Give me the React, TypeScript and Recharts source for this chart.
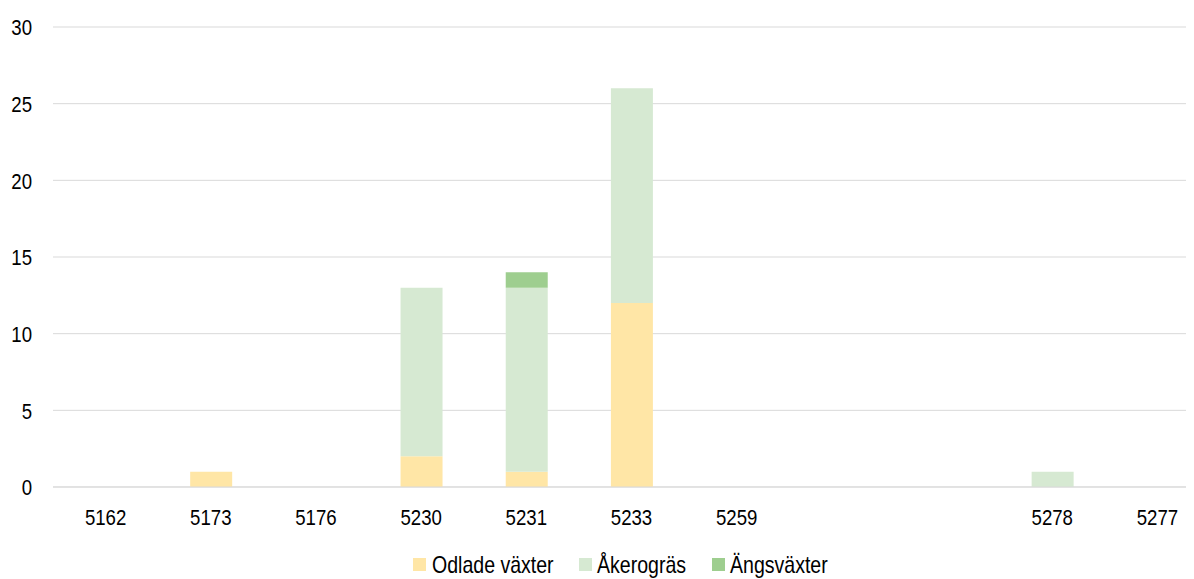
import React from 'react';
import { BarChart, Bar, XAxis, YAxis, CartesianGrid } from 'recharts';

const categories = ['5162', '5173', '5176', '5230', '5231', '5233', '5259', '', ' ', '5278', '5277'];
const odlade = [0, 1, 0, 2, 1, 12, 0, 0, 0, 0, 0];
const akergras = [0, 0, 0, 11, 12, 14, 0, 0, 0, 1, 0];
const angsvaxter = [0, 0, 0, 0, 1, 0, 0, 0, 0, 0, 0];
const yTicks = [0, 5, 10, 15, 20, 25, 30];

const seriesNames = ['Odlade växter', 'Åkerogräs', 'Ängsväxter'];
const colors = ['#FFE6A6', '#D6E9D2', '#9ECE8F'];
const legendSquareX = [405, 571, 704];
const legendTextX = [424, 589, 722];

const data = categories.map((c, i) => ({
  name: c,
  odlade: odlade[i],
  akergras: akergras[i],
  angsvaxter: angsvaxter[i],
}));

const FONT = '"Liberation Sans", Arial, sans-serif';

const XTick = (props: any) => {
  const { x, y, payload } = props;
  return (
    <text
      transform={`translate(${x},${y + 37.5}) scale(0.81,1)`}
      textAnchor="middle"
      fontFamily={FONT}
      fontSize={23}
      fill="#000"
    >
      {payload.value}
    </text>
  );
};

const YTick = (props: any) => {
  const { x, y, payload } = props;
  return (
    <text
      transform={`translate(${x - 21},${y + 8.3}) scale(0.81,1)`}
      textAnchor="end"
      fontFamily={FONT}
      fontSize={23}
      fill="#000"
    >
      {payload.value}
    </text>
  );
};

const LegendOverlay = () => (
  <svg
    width={1186}
    height={571}
    style={{ position: 'absolute', left: 0, top: 0, pointerEvents: 'none' }}
  >
    {seriesNames.map((n, i) => (
      <g key={n}>
        <rect x={legendSquareX[i]} y={550} width={13} height={13} fill={colors[i]} />
        <text
          transform={`translate(${legendTextX[i]},565) scale(0.85,1)`}
          fontFamily={FONT}
          fontSize={23}
          fill="#000"
        >
          {n}
        </text>
      </g>
    ))}
  </svg>
);

export default function App() {
  return (
    <div style={{ width: 1186, height: 571, overflow: 'hidden', position: 'relative' }}>
      <BarChart
        width={1210}
        height={600}
        data={data}
        margin={{ top: 19, right: 8, bottom: 0, left: 0 }}
        barSize={42}
      >
        <CartesianGrid vertical={false} stroke="#D9D9D9" strokeWidth={1} />
        <XAxis
          dataKey="name"
          axisLine={{ stroke: '#D9D9D9' }}
          tickLine={false}
          tickSize={0}
          tickMargin={0}
          height={121}
          interval={0}
          tick={<XTick />}
        />
        <YAxis
          width={45}
          domain={[0, 30]}
          ticks={yTicks}
          axisLine={false}
          tickLine={false}
          tickSize={0}
          tickMargin={0}
          tick={<YTick />}
        />
        <Bar dataKey="odlade" stackId="a" fill={colors[0]} isAnimationActive={false} />
        <Bar dataKey="akergras" stackId="a" fill={colors[1]} isAnimationActive={false} />
        <Bar dataKey="angsvaxter" stackId="a" fill={colors[2]} isAnimationActive={false} />
      </BarChart>
      <LegendOverlay />
    </div>
  );
}
